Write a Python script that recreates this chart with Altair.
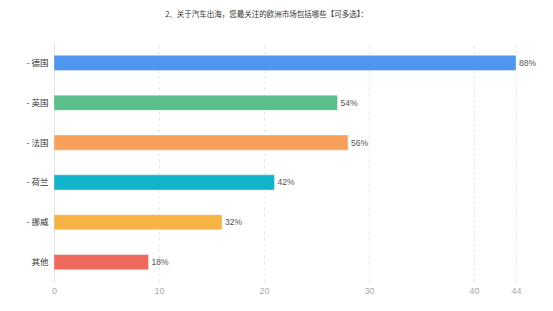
import altair as alt
import pandas as pd

categories = ["- 德国", "- 英国", "- 法国", "- 荷兰", "- 挪威", "其他"]
values = [44, 27, 28, 21, 16, 9]
labels = ["88%", "54%", "56%", "42%", "32%", "18%"]
colors = ["#4f97ee", "#5bbf8b", "#f7a05c", "#10b5cc", "#f6b445", "#ef6a5d"]
ticks = [0, 10, 20, 30, 40, 44]
title = "2、关于汽车出海，您最关注的欧洲市场包括哪些【可多选】："

df = pd.DataFrame({"cat": categories, "val": values, "lab": labels, "col": colors})

FONT = "Noto Sans CJK SC"
LATIN = "Liberation Sans"

y = alt.Y("cat:N", sort=categories, title=None,
          scale=alt.Scale(paddingInner=0.62, paddingOuter=0.31),
          axis=alt.Axis(ticks=False, labelPadding=6, labelFontSize=8.5, labelColor="#333",
                        labelFont=FONT, domainColor="#e4e4e4", grid=False))
x = alt.X("val:Q", title=None,
          scale=alt.Scale(domain=[0, 44], nice=False),
          axis=alt.Axis(values=ticks, ticks=False, domain=False, grid=True,
                        gridColor="#e8e8e8", gridDash=[3, 3], labelFontSize=9,
                        labelColor="#aaaaaa", labelFont=LATIN, labelPadding=4,
                        labelFlush=False))

bars = alt.Chart(df).mark_bar(stroke="white", strokeOpacity=0.35, strokeWidth=1).encode(
    x=x, y=y, color=alt.Color("col:N", scale=None))

text = alt.Chart(df).mark_text(align="left", dx=3, fontSize=8.5, color="#555", font=LATIN).encode(
    x=x, y=y, text="lab:N")

chart = alt.layer(bars, text).properties(
    width=462, height=239,
    background="white",
    title=alt.TitleParams(title, anchor="start", dx=139, offset=25, fontSize=7.5,
                          font=FONT, fontWeight="normal", color="#333"),
    autosize=alt.AutoSizeParams(type="none"),
    padding={"left": 54, "top": 43, "right": 37, "bottom": 29},
).configure_view(stroke=None)

chart.save("out.html", embed_options={"renderer": "svg", "actions": False})
